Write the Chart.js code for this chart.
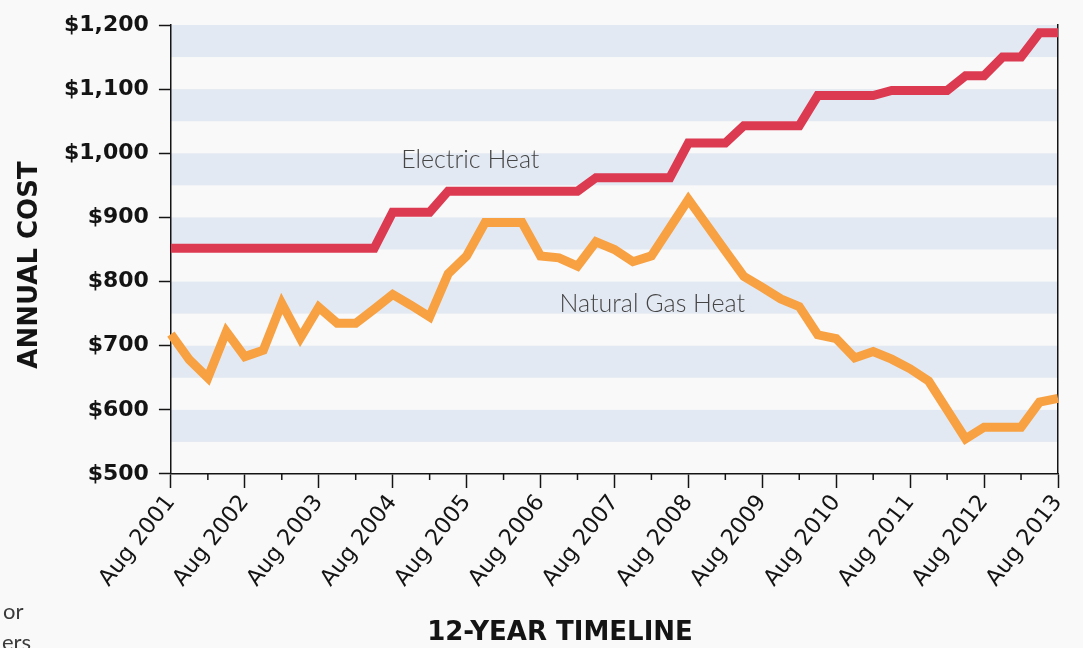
<!DOCTYPE html>
<html>
<head>
<meta charset="utf-8">
<script src="https://cdn.jsdelivr.net/npm/chart.js@4/dist/chart.umd.min.js"></script>
<style>
  html, body { margin: 0; padding: 0; background: #f9f9f9; }
  #grafico { display: block; }
</style>
</head>
<body>
<canvas id="grafico" width="1083" height="648"></canvas>
<script>
/* *****
datos (trimestrales desde Aug 2001)
***** */

const trimestres = [
    'Aug 2001', 'Nov 2001', 'Feb 2002', 'May 2002',
    'Aug 2002', 'Nov 2002', 'Feb 2003', 'May 2003',
    'Aug 2003', 'Nov 2003', 'Feb 2004', 'May 2004',
    'Aug 2004', 'Nov 2004', 'Feb 2005', 'May 2005',
    'Aug 2005', 'Nov 2005', 'Feb 2006', 'May 2006',
    'Aug 2006', 'Nov 2006', 'Feb 2007', 'May 2007',
    'Aug 2007', 'Nov 2007', 'Feb 2008', 'May 2008',
    'Aug 2008', 'Nov 2008', 'Feb 2009', 'May 2009',
    'Aug 2009', 'Nov 2009', 'Feb 2010', 'May 2010',
    'Aug 2010', 'Nov 2010', 'Feb 2011', 'May 2011',
    'Aug 2011', 'Nov 2011', 'Feb 2012', 'May 2012',
    'Aug 2012', 'Nov 2012', 'Feb 2013', 'May 2013',
    'Aug 2013'
];

// etiquetas que se muestran en el eje X (una por anio)
const etiquetasAnio = [
    'Aug 2001', 'Aug 2002', 'Aug 2003', 'Aug 2004', 'Aug 2005', 'Aug 2006', 'Aug 2007',
    'Aug 2008', 'Aug 2009', 'Aug 2010', 'Aug 2011', 'Aug 2012', 'Aug 2013'
];

const electrica = [
    852, 852, 852, 852, 852, 852, 852, 852, 852, 852, 852, 852,
    908, 908, 908,
    941, 941, 941, 941, 941, 941, 941, 941,
    962, 962, 962, 962, 962,
    1016, 1016, 1016,
    1043, 1043, 1043, 1043,
    1090, 1090, 1090, 1090,
    1098, 1098, 1098, 1098,
    1121, 1121,
    1150, 1150,
    1188, 1188
];

const gasNatural = [
    718, 678, 650, 722, 683, 693, 766, 712, 760, 735, 735, 757,
    780, 763, 745, 812, 840, 892, 892, 892, 840, 837, 824, 862,
    850, 831, 840, 884, 928, 888, 848, 808, 791, 773, 761, 717,
    711, 681, 691, 679, 664, 645, 600, 555, 573, 573, 573, 612,
    618
];

const yMin = 500;
const yMax = 1200;
const yPaso = 100;

// textos sobre el grafico: [indice x, valor y]
const textoElectrica = { texto: 'Electric Heat', x: 16.2, y: 990 };
const textoGas = { texto: 'Natural Gas Heat', x: 26.05, y: 765 };

/* *****
estilos
***** */
const colorElectrica = '#dc3a51';
const colorGas = '#f7a142';
const colorFranja = '#e3e9f2';
const colorEje = '#141414';
const fuente = '"DejaVu Sans", sans-serif';

const formatoDolar = (v) => '$' + String(v).replace(/\B(?=(\d{3})+(?!\d))/g, ',');

/* *****
plugins
***** */

// franjas horizontales celestes, media banda bajo cada tick
const franjas = {
    id: 'franjas',
    beforeDraw(chart) {
        const { ctx, chartArea, scales: { y } } = chart;
        ctx.save();
        ctx.fillStyle = colorFranja;
        y.ticks.forEach((t) => {
            if (t.value <= y.min) return;
            const arriba = y.getPixelForValue(t.value);
            const abajo = y.getPixelForValue(t.value - yPaso / 2);
            ctx.fillRect(chartArea.left, arriba, chartArea.right - chartArea.left, abajo - arriba);
        });
        ctx.restore();
    }
};

// ticks menores del eje X (medio anio)
const ticksMenores = {
    id: 'ticksMenores',
    afterDraw(chart) {
        const { ctx, chartArea, scales: { x } } = chart;
        ctx.save();
        ctx.strokeStyle = colorEje;
        ctx.lineWidth = 1.5;
        trimestres.forEach((t, i) => {
            if (i % 4 !== 2) return;
            const px = x.getPixelForValue(i);
            ctx.beginPath();
            ctx.moveTo(px, chartArea.bottom);
            ctx.lineTo(px, chartArea.bottom + 6);
            ctx.stroke();
        });
        ctx.restore();
    }
};

// textos: nombres de series, titulos de ejes y restos de texto de la izquierda
const textos = {
    id: 'textos',
    afterDraw(chart) {
        const { ctx, scales: { x, y } } = chart;
        ctx.save();
        ctx.fillStyle = '#454545';
        ctx.font = '300 25px Lato, sans-serif';
        ctx.textAlign = 'center';
        ctx.textBaseline = 'middle';
        [textoElectrica, textoGas].forEach((t) => {
            ctx.fillText(t.texto, x.getPixelForValue(t.x), y.getPixelForValue(t.y));
        });

        ctx.fillStyle = colorEje;
        ctx.font = 'bold 26px ' + fuente;
        ctx.fillText('12-YEAR TIMELINE', 560, 633);

        // titulo eje Y (va algo mas abajo que el centro del eje)
        ctx.save();
        ctx.translate(30, 265);
        ctx.rotate(-Math.PI / 2);
        ctx.fillText('ANNUAL COST', 0, 0);
        ctx.restore();

        ctx.fillStyle = '#3a3a3a';
        ctx.font = '22px Lato, sans-serif';
        ctx.textAlign = 'left';
        ctx.fillText('or', 3, 612);
        ctx.fillText('ers', 2, 643);
        ctx.restore();
    }
};

/* *****
grafico
***** */
const config = {
    type: 'line',
    data: {
        labels: trimestres,
        datasets: [
            {
                label: 'Electric Heat',
                data: electrica,
                borderColor: colorElectrica,
                borderWidth: 9,
                borderJoinStyle: 'miter',
                pointRadius: 0,
                tension: 0
            },
            {
                label: 'Natural Gas Heat',
                data: gasNatural,
                borderColor: colorGas,
                borderWidth: 9,
                borderJoinStyle: 'miter',
                pointRadius: 0,
                tension: 0
            }
        ]
    },
    options: {
        responsive: false,
        animation: false,
        layout: { padding: { top: 25, left: 54, right: 17, bottom: 54 } },
        plugins: {
            legend: { display: false },
            tooltip: { enabled: false }
        },
        scales: {
            x: {
                type: 'category',
                grid: {
                    drawOnChartArea: false,
                    tickLength: 14,
                    tickWidth: 1.5,
                    tickColor: (c) => (c.index % 4 === 0 ? colorEje : 'rgba(0,0,0,0)')
                },
                border: { color: colorEje, width: 1.5 },
                ticks: {
                    autoSkip: false,
                    minRotation: 52,
                    maxRotation: 52,
                    padding: 2,
                    color: colorEje,
                    font: { family: fuente, size: 22.5 },
                    callback: (v, i) => (etiquetasAnio.includes(trimestres[i]) ? trimestres[i] : '')
                }
            },
            y: {
                min: yMin,
                max: yMax,
                grid: {
                    drawOnChartArea: false,
                    tickLength: 12,
                    tickWidth: 1.5,
                    tickColor: colorEje
                },
                border: { color: colorEje, width: 1.5 },
                ticks: {
                    stepSize: yPaso,
                    padding: 10,
                    color: colorEje,
                    font: { family: fuente, size: 22, weight: 'bold' },
                    callback: (v) => formatoDolar(v)
                }
            },
            y2: {
                position: 'right',
                min: yMin,
                max: yMax,
                grid: { display: false },
                ticks: { display: false },
                border: { color: colorEje, width: 1.5 }
            }
        }
    },
    plugins: [franjas, ticksMenores, textos]
};

const grafico = new Chart(document.getElementById('grafico'), config);
</script>
</body>
</html>
